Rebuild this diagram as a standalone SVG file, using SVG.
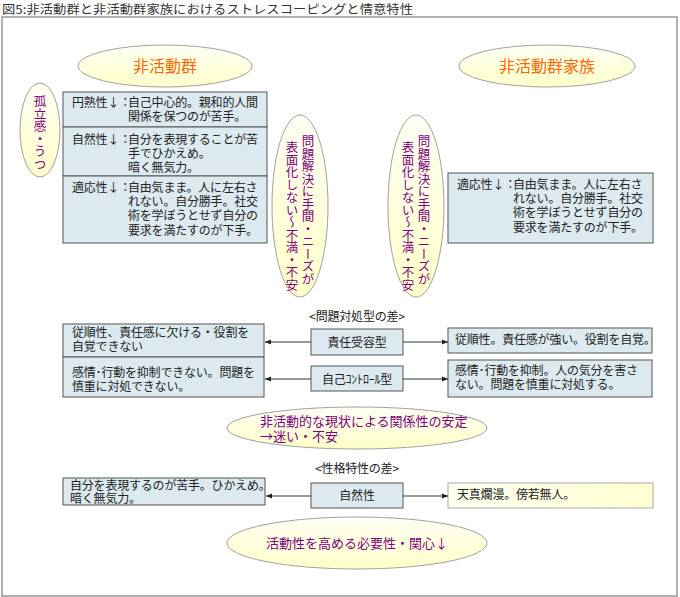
<svg xmlns="http://www.w3.org/2000/svg" width="680" height="597" viewBox="0 0 680 597">
<defs>
<linearGradient id="yel" x1="0" y1="0" x2="0" y2="1">
<stop offset="0" stop-color="#FFFFF4"/>
<stop offset="1" stop-color="#FFFFC8"/>
</linearGradient>
<linearGradient id="yelh" x1="0" y1="0" x2="1" y2="0">
<stop offset="0" stop-color="#FFFFF0"/>
<stop offset="1" stop-color="#FFFFD2"/>
</linearGradient>
<marker id="ah" viewBox="0 0 6 6" refX="6" refY="3" markerWidth="6" markerHeight="6" orient="auto" markerUnits="userSpaceOnUse">
<path d="M0,0.5 L6,3 L0,5.5 Z" fill="#222"/>
</marker>
</defs>
<style>
text{font-family:"Noto Sans CJK JP","Noto Sans",sans-serif;fill:#222}
.t{font-size:12px;letter-spacing:-0.2px}
.ell{fill:url(#yel);stroke:#A0A0A0;stroke-width:1}
.box{fill:#DCEAF0;stroke:#555;stroke-width:1}
.or{fill:#FF6600;font-size:16px}
.pu{fill:#800080;font-size:13px}
.vt{fill:#800080;font-size:12.5px;writing-mode:vertical-rl}
.c{text-anchor:middle}
.ln{stroke:#333;stroke-width:1;fill:none}
</style>
<text x="2" y="14" style="font-size:12px;fill:#333" textLength="411" lengthAdjust="spacingAndGlyphs">図5:非活動群と非活動群家族におけるストレスコーピングと情意特性</text>
<rect x="2" y="17" width="675" height="579" fill="#fff" stroke="#999" stroke-width="1.5"/>

<g id="group-inactive">
<ellipse class="ell" cx="165" cy="66" rx="87" ry="21"/>
<text class="or c" x="165" y="72">非活動群</text>
</g>
<g id="group-family">
<ellipse class="ell" cx="547" cy="66" rx="88" ry="21"/>
<text class="or c" x="547" y="72">非活動群家族</text>
</g>
<g id="isolation">
<ellipse class="ell" cx="40" cy="130" rx="20" ry="47"/>
<text class="vt" x="40" y="95">孤立感・うつ</text>
</g>

<g id="left-table">
<rect class="box" x="63" y="92" width="204" height="35"/>
<rect class="box" x="63" y="127" width="204" height="49"/>
<rect class="box" x="63" y="176" width="204" height="67"/>
<text class="t"><tspan x="72" y="107">円熟性↓：</tspan><tspan x="128" y="107">自己中心的。親和的人間</tspan><tspan x="128" y="121">関係を保つのが苦手。</tspan></text>
<text class="t"><tspan x="72" y="144">自然性↓：</tspan><tspan x="128" y="144">自分を表現することが苦</tspan><tspan x="128" y="158">手でひかえめ。</tspan><tspan x="128" y="172">暗く無気力。</tspan></text>
<text class="t"><tspan x="72" y="192">適応性↓：</tspan><tspan x="128" y="192">自由気まま。人に左右さ</tspan><tspan x="128" y="206">れない。自分勝手。社交</tspan><tspan x="128" y="220">術を学ぼうとせず自分の</tspan><tspan x="128" y="235">要求を満たすのが下手。</tspan></text>
</g>

<g id="problem-left">
<ellipse class="ell" cx="300" cy="206" rx="28" ry="91"/>
<text class="vt"><tspan x="308" y="135">問題解決に手間・ニーズが</tspan><tspan x="292" y="141">表面化しない～不満・不安</tspan></text>
</g>
<g id="problem-right">
<ellipse class="ell" cx="416" cy="206" rx="28" ry="91"/>
<text class="vt"><tspan x="424" y="135">問題解決に手間・ニーズが</tspan><tspan x="408" y="141">表面化しない～不満・不安</tspan></text>
</g>

<g id="right-table">
<rect class="box" x="448" y="173" width="205" height="70"/>
<text class="t"><tspan x="457" y="189">適応性↓：</tspan><tspan x="513" y="189">自由気まま。人に左右さ</tspan><tspan x="513" y="203">れない。自分勝手。社交</tspan><tspan x="513" y="217">術を学ぼうとせず自分の</tspan><tspan x="513" y="232">要求を満たすのが下手。</tspan></text>
</g>

<text class="t c" x="357" y="321">&lt;問題対処型の差&gt;</text>

<g id="left-responsibility">
<rect class="box" x="63" y="324" width="201" height="33"/>
<text class="t"><tspan x="72" y="337">従順性、責任感に欠ける・役割を</tspan><tspan x="72" y="351">自覚できない</tspan></text>
</g>
<g id="left-control">
<rect class="box" x="63" y="357" width="201" height="40"/>
<text class="t"><tspan x="72" y="377">感情･行動を抑制できない。問題を</tspan><tspan x="72" y="391">慎重に対処できない。</tspan></text>
</g>
<g id="responsibility">
<rect class="box" x="311" y="329" width="92" height="26"/>
<text class="t c" x="357" y="347">責任受容型</text>
</g>
<g id="self-control">
<rect class="box" x="311" y="366" width="92" height="25"/>
<text class="t c" x="357" y="384">自己ｺﾝﾄﾛｰﾙ型</text>
</g>
<g id="right-responsibility">
<rect class="box" x="448" y="328" width="204" height="25"/>
<text class="t" x="455" y="344">従順性。責任感が強い。役割を自覚。</text>
</g>
<g id="right-control">
<rect class="box" x="448" y="360" width="204" height="37"/>
<text class="t"><tspan x="455" y="375">感情･行動を抑制。人の気分を害さ</tspan><tspan x="455" y="389">ない。問題を慎重に対処する。</tspan></text>
</g>

<g id="stability">
<ellipse class="ell" cx="357" cy="428" rx="130" ry="21"/>
<text class="pu"><tspan x="260" y="426">非活動的な現状による関係性の安定</tspan><tspan x="260" y="441">→迷い・不安</tspan></text>
</g>

<text class="t c" x="357" y="473">&lt;性格特性の差&gt;</text>

<g id="left-natural">
<rect class="box" x="63" y="478" width="202" height="27"/>
<text class="t"><tspan x="70" y="490">自分を表現するのが苦手。ひかえめ。</tspan><tspan x="70" y="503">暗く無気力。</tspan></text>
</g>
<g id="natural">
<rect class="box" x="311" y="483" width="92" height="25"/>
<text class="t c" x="357" y="500">自然性</text>
</g>
<g id="right-natural">
<rect x="448" y="483" width="205" height="25" fill="url(#yelh)" stroke="#AAA"/>
<text class="t" x="457" y="499">天真爛漫。傍若無人。</text>
</g>

<g id="interest">
<ellipse class="ell" cx="357" cy="543" rx="130" ry="26"/>
<text class="pu c" x="357" y="548">活動性を高める必要性・関心↓</text>
</g>

<g id="connectors">
<line class="ln" x1="311" y1="342" x2="265" y2="342" marker-end="url(#ah)"/>
<line class="ln" x1="403" y1="342" x2="448" y2="342" marker-end="url(#ah)"/>
<line class="ln" x1="311" y1="379" x2="265" y2="379" marker-end="url(#ah)"/>
<line class="ln" x1="403" y1="379" x2="448" y2="379" marker-end="url(#ah)"/>
<line class="ln" x1="311" y1="496" x2="266" y2="496" marker-end="url(#ah)"/>
<line class="ln" x1="403" y1="496" x2="448" y2="496" marker-end="url(#ah)"/>
</g>
</svg>
